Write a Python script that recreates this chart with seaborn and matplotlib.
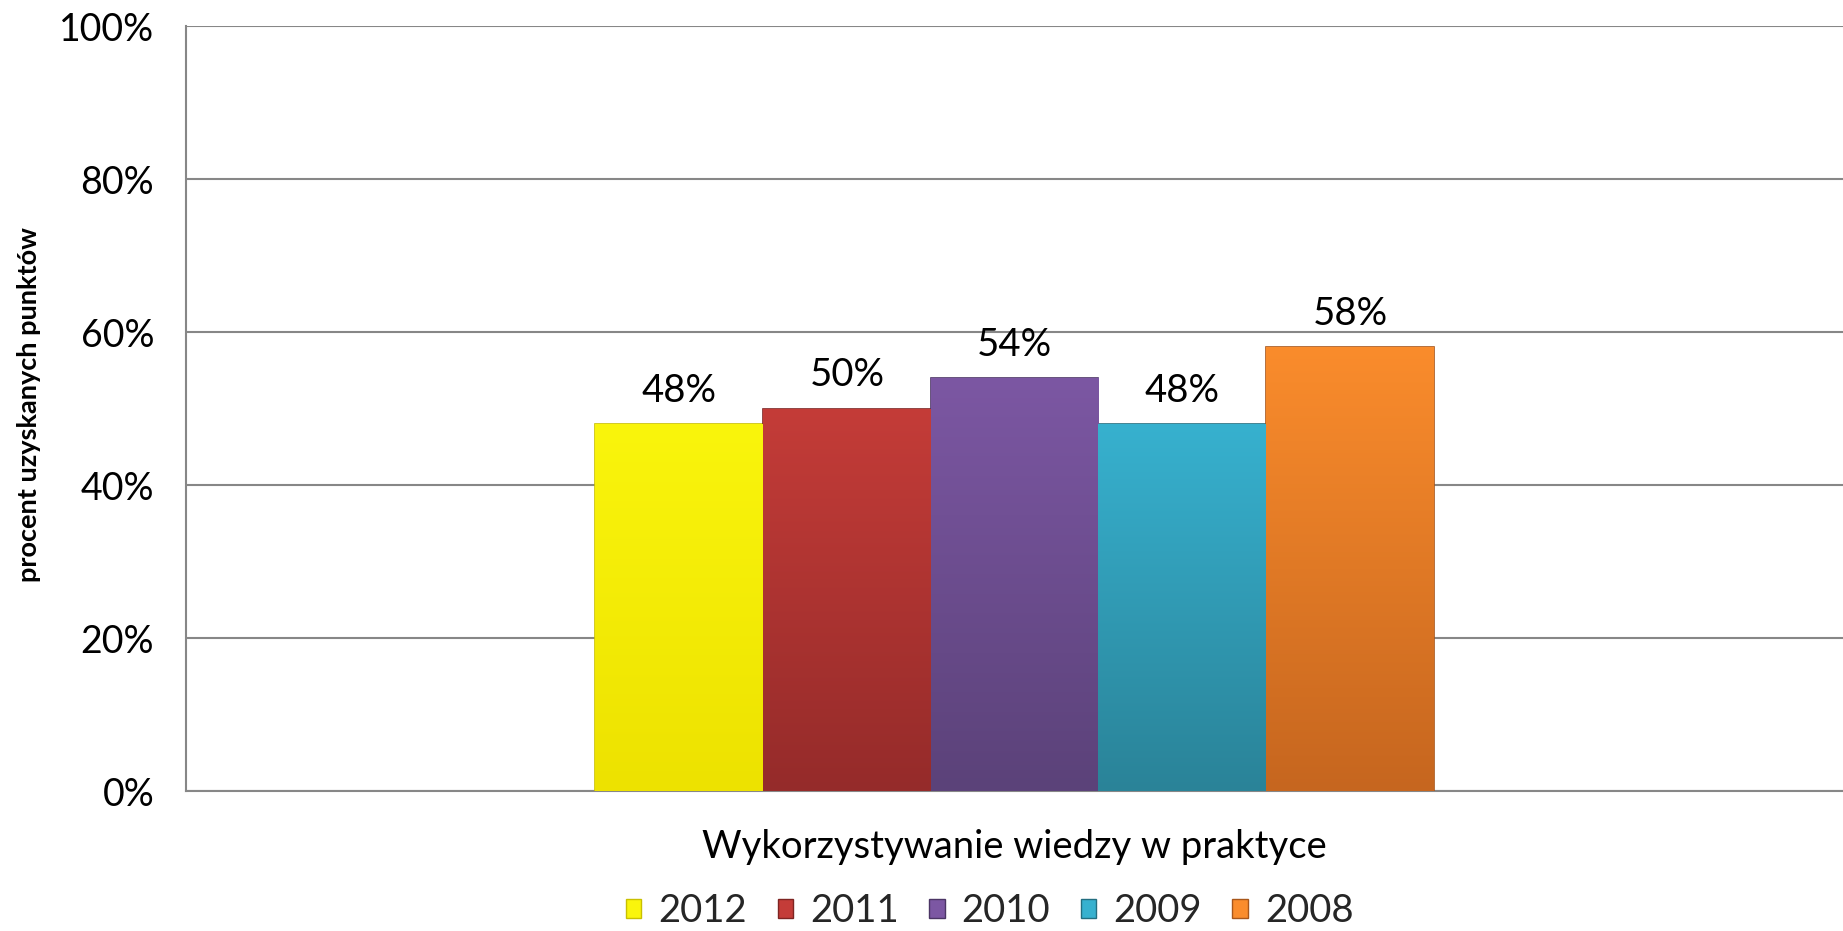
import numpy as np
import pandas as pd
import matplotlib
matplotlib.use("Agg")
import matplotlib.pyplot as plt
import matplotlib.colors as mcolors
import seaborn as sns

# ---- data ----
category = ["Wykorzystywanie wiedzy w praktyce"]
years = ["2012", "2011", "2010", "2009", "2008"]
values = [48, 50, 54, 48, 58]
yticks = [0, 20, 40, 60, 80, 100]
ytick_labels = ["0%", "20%", "40%", "60%", "80%", "100%"]
ylabel = "procent uzyskanych punktów"

top_colors = ["#FAF50C", "#C43C38", "#7C57A3", "#37B1CF", "#FA8C2C"]
bottom_colors = ["#EDE200", "#952B2A", "#5B4279", "#2A8398", "#C6661F"]
edge_colors = ["#C9C000", "#7E2422", "#4B3565", "#236E80", "#A8561A"]

df = pd.DataFrame({
    "cat": category * len(years),
    "year": years,
    "value": values,
})

sns.set_theme(style="white")
plt.rcParams["font.family"] = ["Lato", "DejaVu Sans"]

fig = plt.figure(figsize=(18.43, 9.31), dpi=100)
ax = fig.add_axes([0.1010, 0.150, 0.8990, 0.822])

sns.barplot(data=df, x="cat", y="value", hue="year", hue_order=years,
            palette=top_colors, width=0.506, gap=0, saturation=1,
            legend=True, ax=ax, zorder=3)

ax.set_ylim(0, 100)
ax.set_xlim(-0.5, 0.5)
ax.set_yticks(yticks)
ax.set_yticklabels(ytick_labels, fontsize=27, color="black")
ax.tick_params(axis="y", direction="out", length=13, width=1.5, color="#878787", pad=10)
ax.yaxis.grid(True, color="#878787", linewidth=1.5, zorder=0)
ax.set_axisbelow(True)
ax.set_xticks([0])
ax.set_xticklabels(category, fontsize=27.5, color="black")
ax.tick_params(axis="x", length=0, pad=27)
ax.set_xticks([-0.5], minor=True)
ax.tick_params(axis="x", which="minor", direction="out", length=15, width=1.5, color="#878787")
ax.set_xlabel("")
ax.set_ylabel(ylabel, fontsize=19.5, fontweight="bold", color="black")
ax.yaxis.set_label_coords(-0.0875, 0.505)

for s in ["top", "right"]:
    ax.spines[s].set_visible(False)
for s in ["left", "bottom"]:
    ax.spines[s].set_color("#878787")
    ax.spines[s].set_linewidth(1.5)

# gradient fill per bar, clipped to the bar patch
for i, (cont, y) in enumerate(zip(ax.containers, years)):
    for p in cont.patches:
        x0, w, h = p.get_x(), p.get_width(), p.get_height()
        cmap = mcolors.LinearSegmentedColormap.from_list(
            f"g{i}", [bottom_colors[i], top_colors[i]])
        grad = np.linspace(0, 1, 256).reshape(-1, 1)
        im = ax.imshow(grad, extent=[x0, x0 + w, 0, h], origin="lower",
                       cmap=cmap, aspect="auto", zorder=3.5)
        im.set_clip_path(p)
        p.set_edgecolor(edge_colors[i])
        p.set_linewidth(1.2)
    ax.bar_label(cont, labels=[f"{v:.0f}%" for v in cont.datavalues],
                 fontsize=27.5, padding=11, color="black", zorder=5)

ax.set_xlim(-0.5, 0.5)
ax.set_ylim(0, 100)

leg = ax.get_legend()
handles = leg.legend_handles
for h, ec in zip(handles, edge_colors):
    h.set_edgecolor(ec)
    h.set_linewidth(1.0)
ax.legend(handles=handles, labels=years, loc="center",
          bbox_to_anchor=(0.537, 0.021), bbox_transform=fig.transFigure,
          ncol=5, frameon=False, fontsize=27.5, handlelength=0.4, handleheight=0.4,
          handletextpad=0.45, columnspacing=0.8, borderpad=0.1)

fig.savefig("out.png", dpi=100, facecolor="white")
